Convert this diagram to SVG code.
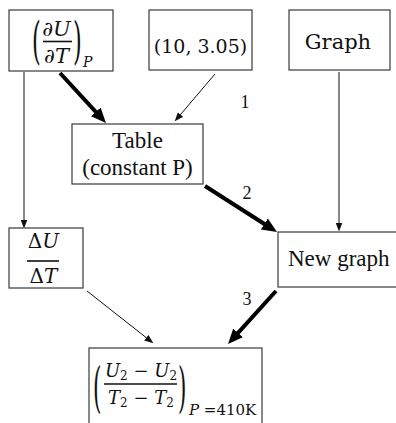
<svg xmlns="http://www.w3.org/2000/svg" width="396" height="423" viewBox="0 0 396 423">
  <style>
    .box { fill: #ffffff; stroke: #3a3a3a; stroke-width: 1.2; }
    .txt { font-family: "Liberation Serif", "Times New Roman", serif; fill: #111; }
    .cam { font-family: "DejaVu Serif", "Liberation Serif", serif; fill: #111; }
    .mi { font-family: "DejaVu Serif", "Liberation Serif", serif; font-style: italic; fill: #111; }
    .thin { stroke: #111; stroke-width: 1; fill: none; }
    .thick { stroke: #000; stroke-width: 4; fill: none; }
    .frac { stroke: #111; stroke-width: 1.6; }
    .num { font-family: "Liberation Serif", "Times New Roman", serif; font-size: 18px; fill: #111; }
  </style>
  <defs>
    <marker id="headThin" markerUnits="userSpaceOnUse" markerWidth="9" markerHeight="7" refX="0.5" refY="3.5" orient="auto">
      <path d="M0,0 L9,3.5 L0,7 z" fill="#111"/>
    </marker>
    <marker id="headThick" markerUnits="userSpaceOnUse" markerWidth="15" markerHeight="13" refX="1" refY="6.5" orient="auto">
      <path d="M0,0 L15,6.5 L0,13 z" fill="#000"/>
    </marker>
  </defs>

  <!-- connectors -->
  <g id="connectors">
    <line class="thin" x1="24" y1="72" x2="24" y2="220" marker-end="url(#headThin)"/>
    <line class="thick" x1="60" y1="73" x2="96.5" y2="112.7" marker-end="url(#headThick)"/>
    <line class="thin" x1="215" y1="74" x2="180.2" y2="114.9" marker-end="url(#headThin)"/>
    <line class="thin" x1="339" y1="72" x2="339" y2="223" marker-end="url(#headThin)"/>
    <line class="thick" x1="205" y1="186" x2="265.2" y2="224.5" marker-end="url(#headThick)"/>
    <line class="thick" x1="276" y1="291" x2="237.4" y2="333.6" marker-end="url(#headThick)"/>
    <line class="thin" x1="87" y1="291" x2="146.7" y2="338" marker-end="url(#headThin)"/>
    <text class="num" x="245" y="108" text-anchor="middle">1</text>
    <text class="num" x="247" y="199" text-anchor="middle">2</text>
    <text class="num" x="247" y="305" text-anchor="middle">3</text>
  </g>

  <!-- partial derivative at constant P -->
  <g id="dUdT">
    <rect class="box" x="9" y="10" width="104" height="61"/>
    <text class="cam" transform="translate(32,58) scale(0.45,1)" font-size="50">(</text>
    <text class="mi" x="56.5" y="36" font-size="21" text-anchor="middle">∂U</text>
    <line class="frac" x1="43" y1="41.5" x2="72" y2="41.5"/>
    <text class="mi" x="56.5" y="63" font-size="21" text-anchor="middle">∂T</text>
    <text class="cam" transform="translate(73,58) scale(0.45,1)" font-size="50">)</text>
    <text class="mi" x="83" y="67" font-size="14">P</text>
  </g>

  <!-- data point -->
  <g id="point">
    <rect class="box" x="149" y="10" width="103" height="60"/>
    <text class="cam" x="200.5" y="53" font-size="19" text-anchor="middle">(10, 3.05)</text>
  </g>

  <!-- source graph -->
  <g id="graph">
    <rect class="box" x="289" y="10" width="101" height="60"/>
    <text class="cam" x="338" y="49" font-size="21" text-anchor="middle">Graph</text>
  </g>

  <!-- table at constant pressure -->
  <g id="table">
    <rect class="box" x="72" y="124" width="131" height="60"/>
    <text class="txt" x="137.5" y="148" font-size="23" text-anchor="middle">Table</text>
    <text class="txt" x="137.5" y="175" font-size="23" text-anchor="middle">(constant P)</text>
  </g>

  <!-- finite difference ratio -->
  <g id="deltaRatio">
    <rect class="box" x="9" y="228" width="74" height="60"/>
    <text x="43.5" y="248" font-size="20" text-anchor="middle"><tspan class="cam">Δ</tspan><tspan class="mi">U</tspan></text>
    <line class="frac" x1="27" y1="261" x2="59" y2="261"/>
    <text x="43.5" y="283" font-size="20" text-anchor="middle"><tspan class="cam">Δ</tspan><tspan class="mi">T</tspan></text>
  </g>

  <!-- resulting graph -->
  <g id="newGraph">
    <rect class="box" x="278" y="232" width="124" height="55"/>
    <text class="txt" x="288" y="266" font-size="23">New graph</text>
  </g>

  <!-- slope at 410 K -->
  <g id="result">
    <rect class="box" x="89" y="348" width="173" height="80"/>
    <text class="cam" transform="translate(93,406) scale(0.4,1)" font-size="54">(</text>
    <text x="141" y="377" font-size="18" text-anchor="middle"><tspan class="mi">U</tspan><tspan class="cam" font-size="12" dy="3">2</tspan><tspan class="cam" dy="-3"> − </tspan><tspan class="mi">U</tspan><tspan class="cam" font-size="12" dy="3">2</tspan></text>
    <line class="frac" x1="104" y1="384" x2="177" y2="384"/>
    <text x="141" y="404" font-size="18" text-anchor="middle"><tspan class="mi">T</tspan><tspan class="cam" font-size="12" dy="3">2</tspan><tspan class="cam" dy="-3"> − </tspan><tspan class="mi">T</tspan><tspan class="cam" font-size="12" dy="3">2</tspan></text>
    <text class="cam" transform="translate(178,406) scale(0.4,1)" font-size="54">)</text>
    <text x="189" y="415" font-size="15"><tspan class="mi">P</tspan><tspan class="cam"> =410K</tspan></text>
  </g>
</svg>
